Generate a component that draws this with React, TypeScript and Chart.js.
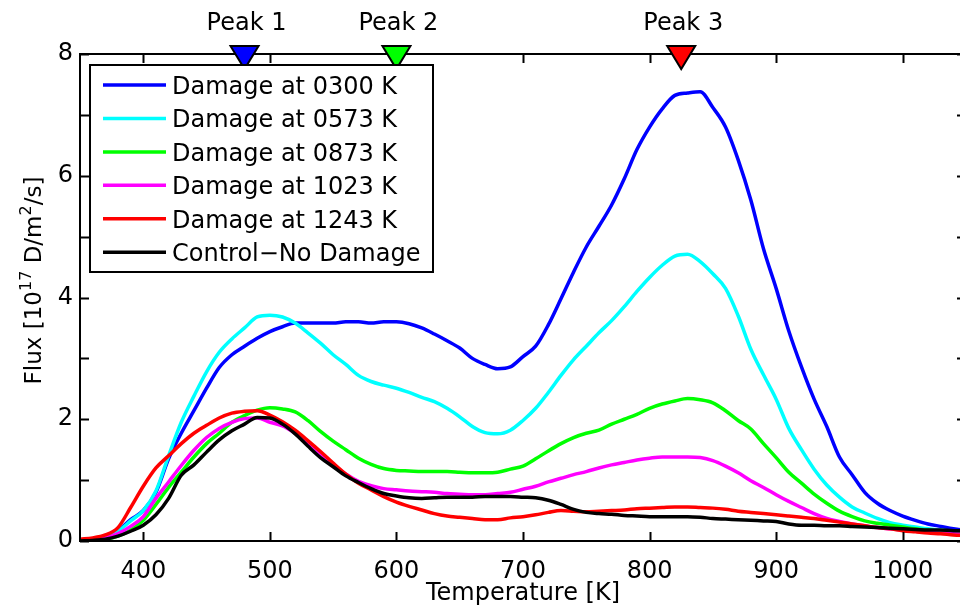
import React, { useEffect, useRef } from 'react';
import { Chart, registerables } from 'chart.js';

Chart.register(...registerables);

const temperatures = [
  350, 360, 370, 380, 390, 400, 410, 420, 430, 440, 450, 460, 470, 480, 490, 500,
  510, 520, 530, 540, 550, 560, 570, 580, 590, 600, 610, 620, 630, 640, 650, 660,
  670, 680, 690, 700, 710, 720, 730, 740, 750, 760, 770, 780, 790, 800, 810, 820,
  830, 840, 850, 860, 870, 880, 890, 900, 910, 920, 930, 940, 950, 960, 970, 980,
  990, 1000, 1010, 1020, 1030, 1040, 1050,
];

const damage0300 = [
  0.0, 0.02, 0.06, 0.17, 0.35, 0.5, 0.8, 1.35, 1.77, 2.14, 2.51, 2.85, 3.06, 3.2, 3.33, 3.44,
  3.52, 3.58, 3.58, 3.58, 3.58, 3.6, 3.6, 3.58, 3.6, 3.6, 3.57, 3.5, 3.4, 3.29, 3.17, 3.0,
  2.9, 2.83, 2.86, 3.03, 3.2, 3.55, 3.98, 4.42, 4.83, 5.17, 5.52, 5.95, 6.43, 6.8, 7.1, 7.32,
  7.36, 7.38, 7.12, 6.8, 6.26, 5.6, 4.8, 4.15, 3.45, 2.86, 2.33, 1.88, 1.38, 1.09, 0.8, 0.62,
  0.5, 0.41, 0.34, 0.28, 0.24, 0.2, 0.17,
];

const damage0573 = [
  0.0, 0.02, 0.06, 0.16, 0.33, 0.5, 0.82, 1.4, 1.95, 2.38, 2.78, 3.1, 3.32, 3.5, 3.68, 3.71,
  3.68, 3.58, 3.42, 3.25, 3.06, 2.9, 2.72, 2.62, 2.56, 2.51, 2.44, 2.36, 2.29, 2.18, 2.04, 1.88,
  1.78, 1.76, 1.82, 1.98, 2.18, 2.44, 2.72, 2.98, 3.2, 3.42, 3.62, 3.85, 4.1, 4.33, 4.53, 4.68,
  4.71, 4.59, 4.39, 4.15, 3.7, 3.15, 2.73, 2.33, 1.85, 1.5, 1.18, 0.92, 0.72, 0.56, 0.46, 0.37,
  0.3, 0.26, 0.23, 0.2, 0.18, 0.16, 0.14,
];

const damage0873 = [
  0.0, 0.01, 0.03, 0.08, 0.18, 0.34, 0.6, 0.88, 1.13, 1.38, 1.6, 1.77, 1.95, 2.06, 2.15, 2.19,
  2.17, 2.12, 1.98, 1.8, 1.64, 1.5, 1.36, 1.26, 1.19, 1.16, 1.15, 1.14, 1.14, 1.14, 1.13, 1.12,
  1.12, 1.13, 1.18, 1.23, 1.35, 1.48, 1.6, 1.7, 1.77, 1.82, 1.92, 2.0, 2.08, 2.18, 2.25, 2.3,
  2.34, 2.32, 2.27, 2.14, 1.98, 1.84, 1.6, 1.37, 1.13, 0.95, 0.77, 0.62, 0.49, 0.4, 0.33, 0.29,
  0.26, 0.23, 0.2, 0.18, 0.16, 0.14, 0.12,
];

const damage1023 = [
  0.0, 0.02, 0.05, 0.12, 0.24, 0.4, 0.7, 0.97, 1.24, 1.49, 1.7, 1.85, 1.95, 2.01, 2.02, 1.95,
  1.89, 1.77, 1.62, 1.44, 1.26, 1.1, 0.98, 0.91, 0.86, 0.84, 0.82, 0.81, 0.8, 0.78, 0.77, 0.76,
  0.76, 0.78, 0.8, 0.85, 0.9, 0.97, 1.03, 1.09, 1.14, 1.2, 1.25, 1.29, 1.33, 1.36, 1.38, 1.38,
  1.38, 1.37, 1.32, 1.23, 1.12, 0.99, 0.88, 0.76, 0.65, 0.55, 0.45, 0.37, 0.32, 0.28, 0.25, 0.22,
  0.2, 0.18, 0.16, 0.15, 0.13, 0.12, 0.11,
];

const damage1243 = [
  0.03, 0.05, 0.1, 0.22, 0.55, 0.9, 1.2, 1.4, 1.6, 1.77, 1.9, 2.02, 2.1, 2.13, 2.14, 2.07,
  1.96, 1.82, 1.65, 1.47, 1.28, 1.1, 0.95, 0.84, 0.73, 0.64, 0.57, 0.51, 0.45, 0.41, 0.39, 0.37,
  0.35, 0.35, 0.38, 0.4, 0.43, 0.47, 0.5, 0.49, 0.48, 0.49, 0.5, 0.51, 0.53, 0.54, 0.55, 0.56,
  0.56, 0.55, 0.54, 0.52, 0.49, 0.47, 0.45, 0.43, 0.41, 0.39, 0.37, 0.34, 0.31, 0.28, 0.25, 0.22,
  0.2, 0.17, 0.15, 0.13, 0.12, 0.1, 0.09,
];

const controlNoDamage = [
  0.0, 0.01, 0.03, 0.08, 0.16, 0.26, 0.43, 0.7, 1.08, 1.25, 1.46, 1.66, 1.81, 1.92, 2.03, 2.02,
  1.92, 1.76, 1.56, 1.37, 1.22, 1.07, 0.96, 0.86, 0.78, 0.74, 0.71, 0.7, 0.71, 0.72, 0.72, 0.72,
  0.73, 0.73, 0.73, 0.72, 0.71, 0.67, 0.6, 0.52, 0.47, 0.45, 0.44, 0.42, 0.41, 0.4, 0.4, 0.4,
  0.4, 0.39, 0.37, 0.36, 0.35, 0.34, 0.33, 0.32, 0.28, 0.26, 0.26, 0.25, 0.25, 0.24, 0.23, 0.22,
  0.21, 0.2, 0.19, 0.18, 0.18, 0.17, 0.17,
];

const seriesValues = [damage0300, damage0573, damage0873, damage1023, damage1243, controlNoDamage];
const seriesLabels = [
  'Damage at 0300 K',
  'Damage at 0573 K',
  'Damage at 0873 K',
  'Damage at 1023 K',
  'Damage at 1243 K',
  'Control\u2212No Damage',
];
const seriesColors = ['#0000ff', '#00ffff', '#00ff00', '#ff00ff', '#ff0000', '#000000'];

const xTickValues = [400, 500, 600, 700, 800, 900, 1000];
const yTickValues = [0, 2, 4, 6, 8];
const yTickMarks = [0, 1, 2, 3, 4, 5, 6, 7, 8];

const peakTemps = [480, 600, 825];
const peakLabels = ['Peak 1', 'Peak 2', 'Peak 3'];
const peakColors = ['#0000ff', '#00ff00', '#ff0000'];

const FONT = '"DejaVu Sans", "Liberation Sans", Arial, sans-serif';

const framePlugin = {
  id: 'matlabFrame',
  afterDatasetsDraw(chart: any) {
    const { ctx, chartArea: a, scales } = chart;
    const xs = scales.x;
    const ys = scales.y;
    ctx.save();

    // axes box
    ctx.strokeStyle = '#000';
    ctx.lineWidth = 2;
    ctx.strokeRect(a.left, a.top, a.right - a.left, a.bottom - a.top);

    // inward ticks
    const tl = 9;
    ctx.beginPath();
    for (const v of xTickValues) {
      const px = Math.round(xs.getPixelForValue(v)) + 0.5;
      ctx.moveTo(px, a.bottom);
      ctx.lineTo(px, a.bottom - tl);
      ctx.moveTo(px, a.top);
      ctx.lineTo(px, a.top + tl);
    }
    for (const v of yTickMarks) {
      const py = Math.round(ys.getPixelForValue(v)) + 0.5;
      ctx.moveTo(a.left, py);
      ctx.lineTo(a.left + tl, py);
      ctx.moveTo(a.right, py);
      ctx.lineTo(a.right - tl, py);
    }
    ctx.stroke();

    // peak markers
    ctx.font = `24px ${FONT}`;
    ctx.textAlign = 'center';
    ctx.textBaseline = 'alphabetic';
    peakTemps.forEach((t, i) => {
      const px = xs.getPixelForValue(t);
      const tipY = a.top + 15;
      const topY = a.top - 8;
      ctx.beginPath();
      ctx.moveTo(px - 14, topY);
      ctx.lineTo(px + 14, topY);
      ctx.lineTo(px, tipY);
      ctx.closePath();
      ctx.fillStyle = peakColors[i];
      ctx.fill();
      ctx.lineWidth = 2;
      ctx.strokeStyle = '#000';
      ctx.stroke();
      ctx.fillStyle = '#000';
      ctx.fillText(peakLabels[i], px + 2, 30);
    });

    // legend
    const lx = 90, ly = 65, lw = 343, lh = 207;
    ctx.fillStyle = '#fff';
    ctx.fillRect(lx, ly, lw, lh);
    ctx.lineWidth = 2;
    ctx.strokeStyle = '#000';
    ctx.strokeRect(lx, ly, lw, lh);
    ctx.textAlign = 'left';
    chart.data.datasets.forEach((ds: any, i: number) => {
      const cy = 85 + i * 33.45;
      ctx.beginPath();
      ctx.moveTo(103, cy);
      ctx.lineTo(166, cy);
      ctx.strokeStyle = ds.borderColor;
      ctx.lineWidth = 3.5;
      ctx.stroke();
      ctx.fillStyle = '#000';
      ctx.fillText(ds.label, 172, cy + 9);
    });

    // y axis title with superscripts
    const parts: [string, boolean][] = [
      ['Flux [10', false],
      ['17', true],
      [' D/m', false],
      ['2', true],
      ['/s]', false],
    ];
    const mainFont = `23px ${FONT}`;
    const supFont = `16px ${FONT}`;
    let total = 0;
    for (const [txt, sup] of parts) {
      ctx.font = sup ? supFont : mainFont;
      total += ctx.measureText(txt).width;
    }
    ctx.translate(41, (a.top + a.bottom) / 2 - 17);
    ctx.rotate(-Math.PI / 2);
    let cx = -total / 2;
    ctx.fillStyle = '#000';
    for (const [txt, sup] of parts) {
      ctx.font = sup ? supFont : mainFont;
      ctx.fillText(txt, cx, sup ? -10 : 0);
      cx += ctx.measureText(txt).width;
    }

    ctx.restore();
  },
};

export default function App() {
  const canvasRef = useRef<HTMLCanvasElement | null>(null);

  useEffect(() => {
    const canvas = canvasRef.current;
    if (!canvas) return;
    Chart.defaults.font.family = FONT;
    const datasets = seriesValues.map((vals, i) => ({
      label: seriesLabels[i],
      data: vals.map((v, j) => ({ x: temperatures[j], y: v })),
      borderColor: seriesColors[i],
      backgroundColor: seriesColors[i],
      borderWidth: 3.5,
      pointRadius: 0,
      fill: false,
      cubicInterpolationMode: 'monotone' as const,
      order: seriesValues.length - 1 - i,
    }));

    const chart = new Chart(canvas, {
      type: 'line',
      data: { datasets },
      options: {
        animation: false,
        responsive: false,
        devicePixelRatio: 1,
        layout: { padding: { top: 54, right: 14, left: 0, bottom: 0 } },
        plugins: {
          legend: { display: false },
          tooltip: { enabled: false },
        },
        scales: {
          x: {
            type: 'linear',
            min: 350,
            max: 1050,
            grid: { display: false, drawTicks: false },
            border: { display: false },
            ticks: {
              color: '#000',
              font: { size: 24, family: FONT },
              padding: 16,
              maxRotation: 0,
              callback: (v: any) => String(v),
            },
            afterBuildTicks: (scale: any) => {
              scale.ticks = xTickValues.map((v) => ({ value: v }));
            },
            afterFit: (scale: any) => {
              scale.height = 73;
            },
            title: {
              display: true,
              text: 'Temperature [K]',
              color: '#000',
              font: { size: 24, family: FONT },
              padding: { top: 0, bottom: 6 },
            },
          },
          y: {
            type: 'linear',
            min: 0,
            max: 8,
            grid: { display: false, drawTicks: false },
            border: { display: false },
            ticks: {
              color: '#000',
              font: { size: 24, family: FONT },
              padding: 7,
              callback: (v: any) => String(v),
            },
            afterBuildTicks: (scale: any) => {
              scale.ticks = yTickValues.map((v) => ({ value: v }));
            },
            afterFit: (scale: any) => {
              scale.width = 80;
            },
          },
        },
      },
      plugins: [framePlugin],
    });

    return () => chart.destroy();
  }, []);

  return (
    <div style={{ position: 'fixed', left: 0, top: 0, width: 960, height: 614, overflow: 'hidden', background: '#fff' }}>
      <canvas ref={canvasRef} width={980} height={614} style={{ display: 'block' }} />
    </div>
  );
}
